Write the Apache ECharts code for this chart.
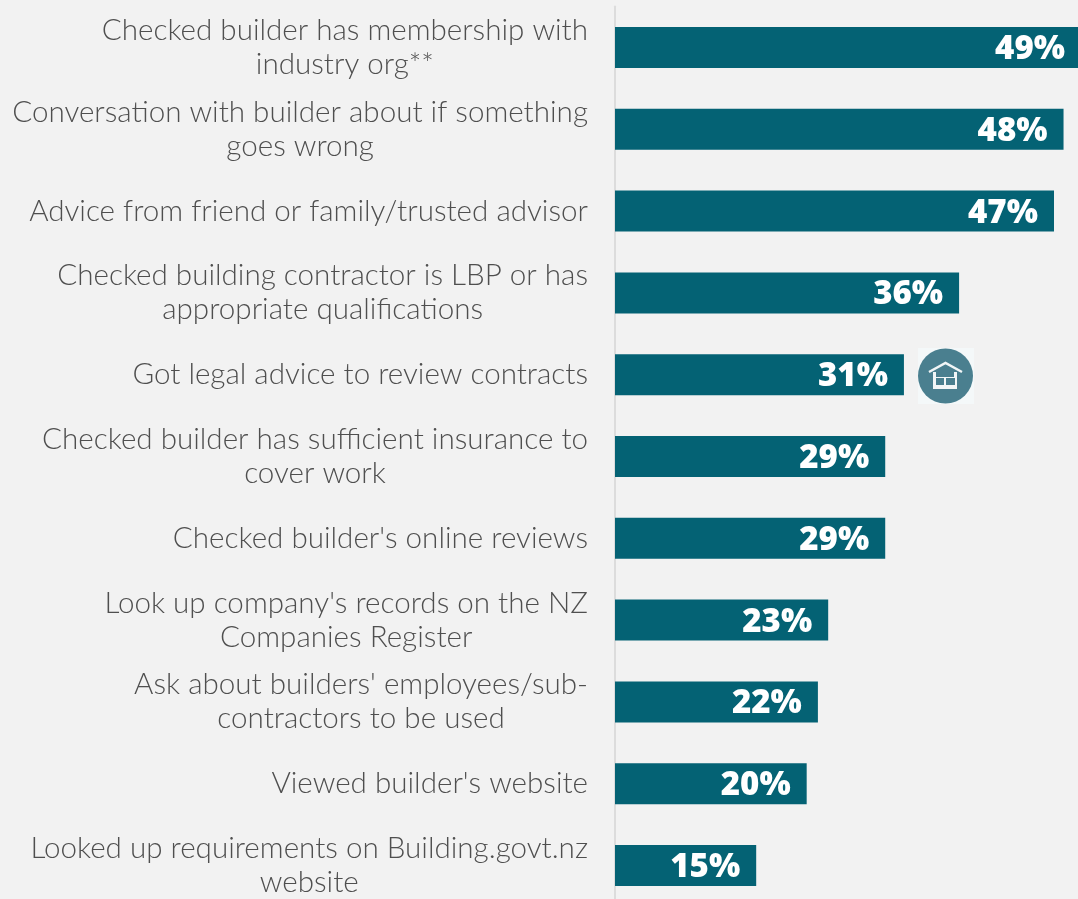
<!DOCTYPE html>
<html><head><meta charset="utf-8">
<style>html,body{margin:0;padding:0;background:#f2f2f2;overflow:hidden;width:1078px;height:899px}#c{width:1090px;height:920px}</style>
<script src="https://cdn.jsdelivr.net/npm/echarts@6/dist/echarts.min.js"></script>
</head><body><div id="c"></div>
<script>
const categories = [
  ["Checked builder has membership with","industry org**"],
  ["Conversation with builder about if something","goes wrong"],
  ["Advice from friend or family/trusted advisor"],
  ["Checked building contractor is LBP or has","appropriate qualifications"],
  ["Got legal advice to review contracts"],
  ["Checked builder has sufficient insurance to","cover work"],
  ["Checked builder's online reviews"],
  ["Look up company's records on the NZ","Companies Register"],
  ["Ask about builders' employees/sub-","contractors to be used"],
  ["Viewed builder's website"],
  ["Looked up requirements on Building.govt.nz","website"]
];
const barLengths = [49.84,47.97,46.95,36.8,30.9,28.9,28.9,22.8,21.7,20.5,15.1];
const valueLabels = ["49%","48%","47%","36%","31%","29%","29%","23%","22%","20%","15%"];

const chart = echarts.init(document.getElementById('c'));
chart.setOption({
  animation:false,
  backgroundColor:'#f2f2f2',
  grid:{left:615,width:475,top:6.6,height:899.8,containLabel:false},
  xAxis:{type:'value',min:0,max:50.8,show:false},
  yAxis:{type:'category',inverse:true,offset:1,
    data:categories.map(l=>l.join('\n')),
    axisLine:{show:true,lineStyle:{color:'#dcdcdc',width:2}},
    axisTick:{show:false},
    axisLabel:{margin:26,align:'right',interval:0,
      formatter:v=>v.split('\n').map(s=>'{c|'+s+'}').join('\n'),
      rich:{c:{align:'center',fontFamily:'Lato',fontWeight:300,fontSize:29.6,lineHeight:34,color:'#4f4f4f'}}
    }
  },
  series:[{type:'bar',data:barLengths,barWidth:41,
    itemStyle:{color:'#046274'},
    label:{show:true,position:'insideRight',distance:16,offset:[0,2],
      formatter:p=>valueLabels[p.dataIndex],
      fontFamily:'Open Sans',fontWeight:800,fontSize:33,color:'#fff'}
  }],
  graphic:[
    {type:'rect',shape:{x:918,y:348,width:56,height:56},style:{fill:'#f4f8f9'},silent:true},
    {type:'circle',shape:{cx:945.5,cy:376,r:27.5},style:{fill:'#4a7f8f'},silent:true},
    {type:'rect',shape:{x:933,y:372,width:24,height:17},style:{fill:'#f2f6f7'},silent:true},
    {type:'rect',shape:{x:936,y:370,width:18,height:7},style:{fill:'#4a7f8f'},silent:true},
    {type:'rect',shape:{x:936,y:378,width:8,height:7},style:{fill:'#4a7f8f'},silent:true},
    {type:'rect',shape:{x:946,y:378,width:9,height:7},style:{fill:'#4a7f8f'},silent:true},
    {type:'polyline',shape:{points:[[929,372],[945.5,363],[962,372]]},style:{stroke:'#f2f6f7',lineWidth:2.5,fill:null},silent:true}
  ]
});
</script></body></html>
